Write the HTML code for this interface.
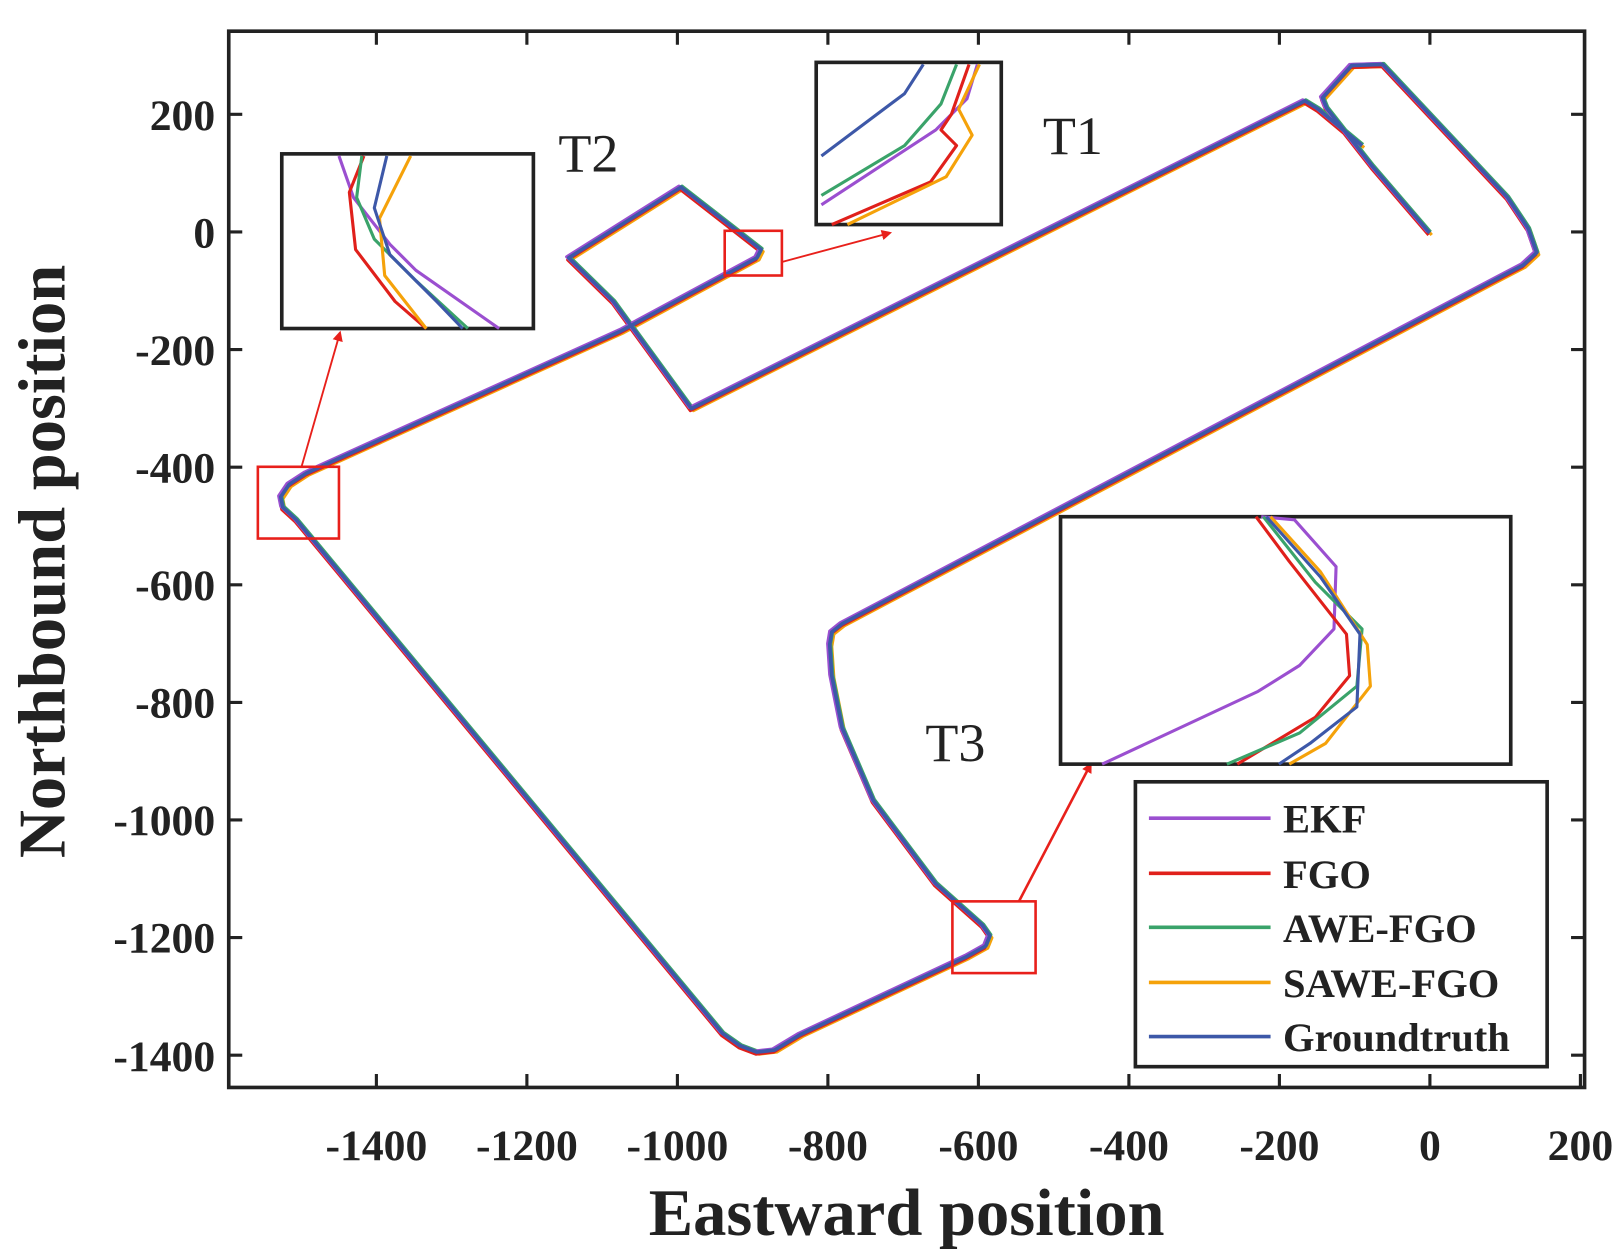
<!DOCTYPE html>
<html><head><meta charset="utf-8"><style>html,body{margin:0;padding:0;background:#fff}svg{display:block}</style></head>
<body>
<svg width="1622" height="1259" viewBox="0 0 1560 1211" preserveAspectRatio="none" xmlns="http://www.w3.org/2000/svg">
<defs>
<marker id="ah" markerWidth="10" markerHeight="10" refX="8" refY="5" orient="auto" markerUnits="userSpaceOnUse"><path d="M0,0 L10,5 L0,10 z" fill="#e8201b"/></marker>
<g id="traj" fill="none" stroke-linejoin="round">
<polyline points="1375,224 1320,160 1276,104 1272,94 1300,63 1330,62 1450,190 1470,220 1478,243 1465,255 1440,268 810,600 800,608 798,620 800,650 810,700 840,770 900,850 945,890 952,900 948,910 930,920 770,995 745,1010 728,1012 712,1006 695,994 285,500 272,488 270,478 278,466 295,455 598,318 728,248 732,240 655,180 547,248 590,290 665,393 1255,97 1268,105 1310,140"/>
</g>
</defs>
<g font-family="'Liberation Serif',serif" font-weight="bold">
<use href="#traj" stroke="#f5a20a" stroke-width="3" transform="translate(2,2)"/>
<use href="#traj" stroke="#e0201b" stroke-width="3" transform="translate(-1,2)"/>
<use href="#traj" stroke="#3aa36a" stroke-width="3" transform="translate(1,-1)"/>
<use href="#traj" stroke="#9b4fd0" stroke-width="3" transform="translate(-2,-1)"/>
<use href="#traj" stroke="#3d58a8" stroke-width="3.5"/>
<rect x="220" y="30" width="1304" height="1016" fill="none" stroke="#222" stroke-width="3.5"/>
<g stroke="#222" stroke-width="3">
<path d="M362,1046v-13M506.75,1046v-13M651.5,1046v-13M796.25,1046v-13M941,1046v-13M1085.75,1046v-13M1230.5,1046v-13M1375.25,1046v-13M1520,1046v-13"/>
<path d="M362,30v13M506.75,30v13M651.5,30v13M796.25,30v13M941,30v13M1085.75,30v13M1230.5,30v13M1375.25,30v13"/>
<path d="M220,110h13M220,223.1h13M220,336.2h13M220,449.4h13M220,562.5h13M220,675.6h13M220,788.7h13M220,901.8h13M220,1015h13"/>
<path d="M1524,110h-13M1524,223.1h-13M1524,336.2h-13M1524,449.4h-13M1524,562.5h-13M1524,675.6h-13M1524,788.7h-13M1524,901.8h-13M1524,1015h-13"/>
</g>
<g font-size="42" fill="#222" text-anchor="middle">
<text x="362" y="1116">-1400</text><text x="506.75" y="1116">-1200</text><text x="651.5" y="1116">-1000</text><text x="796.25" y="1116">-800</text><text x="941" y="1116">-600</text><text x="1085.75" y="1116">-400</text><text x="1230.5" y="1116">-200</text><text x="1375.25" y="1116">0</text><text x="1520" y="1116">200</text>
</g>
<g font-size="42" fill="#222" text-anchor="end">
<text x="207" y="125">200</text><text x="207" y="238">0</text><text x="207" y="351">-200</text><text x="207" y="464">-400</text><text x="207" y="577">-600</text><text x="207" y="690">-800</text><text x="207" y="803">-1000</text><text x="207" y="916">-1200</text><text x="207" y="1030">-1400</text>
</g>
<text x="872" y="1188" font-size="64" fill="#222" text-anchor="middle">Eastward position</text>
<text transform="translate(62,540) rotate(-90)" font-size="64" fill="#222" text-anchor="middle">Northbound position</text>
<g fill="none" stroke="#e8201b" stroke-width="2.5">
<rect x="248" y="449" width="78" height="69"/>
<rect x="697" y="222" width="55" height="43"/>
<rect x="916" y="867" width="80" height="69"/>
<line x1="290" y1="449" x2="327" y2="320" marker-end="url(#ah)" stroke-width="1.8"/>
<line x1="752" y1="252" x2="856" y2="224" marker-end="url(#ah)" stroke-width="1.8"/>
<line x1="980" y1="867" x2="1049" y2="735" marker-end="url(#ah)" stroke-width="2.5"/>
</g>
<g fill="#fff" stroke="#222" stroke-width="3.5">
<rect x="271" y="148" width="242" height="168"/>
<rect x="785" y="60" width="178" height="156"/>
<rect x="1020" y="497" width="433" height="238"/>
</g>
<g fill="none" stroke-width="3" stroke-linejoin="round">
<polyline stroke="#9b4fd0" points="326,150 340,190 375,235 400,260 480,316"/>
<polyline stroke="#e0201b" points="350,150 336,185 342,240 380,290 410,316"/>
<polyline stroke="#3aa36a" points="348,150 343,190 360,230 400,270 450,316"/>
<polyline stroke="#f5a20a" points="395,150 365,210 370,265 410,316"/>
<polyline stroke="#3d58a8" points="372,150 360,200 375,245 420,290 445,316"/>
<polyline stroke="#3d58a8" points="888,62 870,90 790,150"/>
<polyline stroke="#3aa36a" points="920,62 905,100 870,140 790,188"/>
<polyline stroke="#9b4fd0" points="940,62 930,95 900,125 790,197"/>
<polyline stroke="#e0201b" points="932,62 915,110 905,125 920,140 895,175 800,216"/>
<polyline stroke="#f5a20a" points="942,62 922,105 935,130 910,170 815,216"/>
<polyline stroke="#9b4fd0" points="1213,497 1245,500 1285,545 1283,605 1250,640 1210,665 1060,735"/>
<polyline stroke="#e0201b" points="1208,497 1240,540 1295,610 1298,650 1265,690 1190,735"/>
<polyline stroke="#3aa36a" points="1215,497 1265,560 1310,605 1305,660 1250,705 1180,735"/>
<polyline stroke="#f5a20a" points="1222,497 1270,550 1315,620 1318,660 1275,715 1240,735"/>
<polyline stroke="#3d58a8" points="1218,497 1270,555 1308,610 1305,680 1260,715 1230,735"/>
</g>
<g font-weight="normal" font-size="52" fill="#222">
<text x="537" y="165">T2</text><text x="1003" y="148">T1</text><text x="890" y="732">T3</text>
</g>
<rect x="1092" y="752" width="396" height="274" fill="#fff" stroke="#222" stroke-width="3.5"/>
<g stroke-width="3.5">
<line x1="1105" y1="787" x2="1222" y2="787" stroke="#9b4fd0"/>
<line x1="1105" y1="840" x2="1222" y2="840" stroke="#e0201b"/>
<line x1="1105" y1="892" x2="1222" y2="892" stroke="#3aa36a"/>
<line x1="1105" y1="945" x2="1222" y2="945" stroke="#f5a20a"/>
<line x1="1105" y1="997" x2="1222" y2="997" stroke="#3d58a8"/>
</g>
<g font-size="39" fill="#222">
<text x="1234" y="801">EKF</text><text x="1234" y="854">FGO</text><text x="1234" y="906">AWE-FGO</text><text x="1234" y="959">SAWE-FGO</text><text x="1234" y="1011">Groundtruth</text>
</g>
</g>
</svg>
</body></html>
